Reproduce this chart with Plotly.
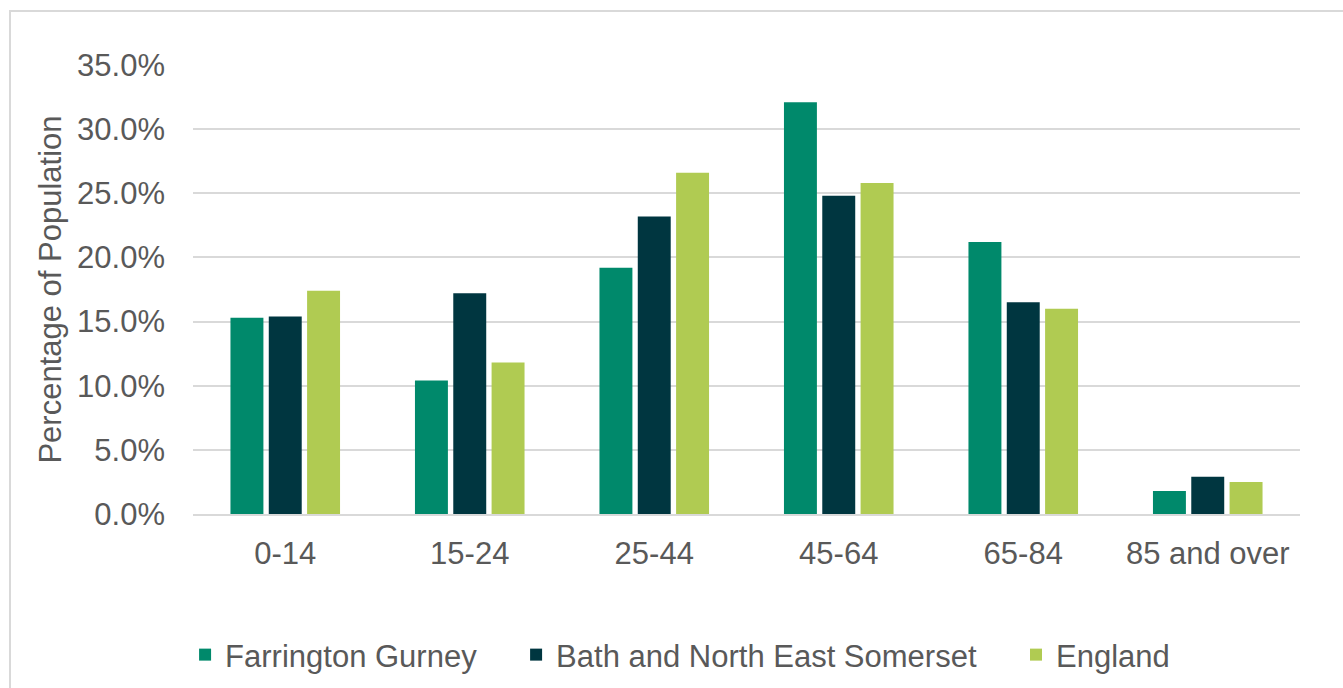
import plotly.graph_objects as go

categories = ["0-14", "15-24", "25-44", "45-64", "65-84", "85 and over"]
farrington = [15.3, 10.4, 19.2, 32.1, 21.2, 1.8]
banes = [15.4, 17.2, 23.2, 24.8, 16.5, 2.9]
england = [17.4, 11.8, 26.6, 25.8, 16.0, 2.5]
series_names = ["Farrington Gurney", "Bath and North East Somerset", "England"]
tick_vals = [0, 5, 10, 15, 20, 25, 30, 35]
tick_text = [f"{v:.1f}%" for v in tick_vals]

font = "Liberation Sans, Arial, sans-serif"
fs = 31
pad = "\u00a0" * 4
fig = go.Figure()
for i, (name, vals, col) in enumerate(zip(series_names, [farrington, banes, england],
                                          ["#00896B", "#003640", "#B0CB52"])):
    fig.add_trace(go.Bar(x=categories, y=vals, name=name + (pad if i < 2 else ""),
                         marker_color=col, marker_line_width=0))

fig.update_layout(
    width=1343, height=688,
    margin=dict(l=193, r=43, t=65, b=174),
    paper_bgcolor="white", plot_bgcolor="white",
    bargap=0.377, bargroupgap=0.14,
    font=dict(family=font, size=fs, color="#595959"),
    legend=dict(orientation="h", x=0.44, xanchor="center",
                yref="container", y=0.048, yanchor="middle",
                font=dict(size=fs, color="#595959"),
                traceorder="normal"),
    xaxis=dict(showgrid=False, showline=True, linecolor="#D9D9D9", linewidth=2,
               ticks="", ticklabelstandoff=11, tickfont=dict(size=fs, color="#595959")),
    yaxis=dict(range=[0, 35], tickvals=tick_vals, ticktext=tick_text,
               showgrid=True, gridcolor="#D9D9D9", gridwidth=2, zeroline=False,
               ticklabelstandoff=27,
               tickfont=dict(size=fs, color="#595959"),
               title=dict(text="Percentage of Population", font=dict(size=fs, color="#595959"),
                          standoff=6)),
    shapes=[dict(type="rect", xref="paper", yref="paper",
                 x0=-183/1107, x1=1.2, y0=-0.6, y1=(514-11)/449,
                 line=dict(color="#D9D9D9", width=2), fillcolor="rgba(0,0,0,0)",
                 layer="below")],
)
fig.write_html("out.html")
